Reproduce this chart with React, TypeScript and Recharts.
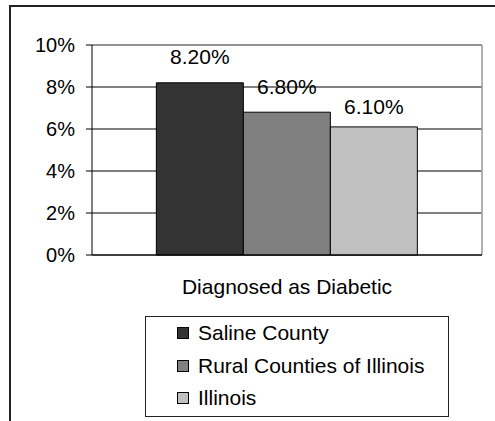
import React from "react";
import {
  BarChart,
  Bar,
  XAxis,
  YAxis,
  CartesianGrid,
  Legend,
  LabelList,
} from "recharts";

const categories = ["Diagnosed as Diabetic"];
const seriesNames = ["Saline County", "Rural Counties of Illinois", "Illinois"];
const salineCounty = [0.082];
const ruralCounties = [0.068];
const illinois = [0.061];
const yTicks = [0, 0.02, 0.04, 0.06, 0.08, 0.1];

const data = categories.map((c, i) => ({
  category: c,
  saline: salineCounty[i],
  rural: ruralCounties[i],
  illinois: illinois[i],
}));

const font = "'Liberation Sans', Arial, sans-serif";

const pct0 = (v: number) => `${Math.round(v * 100)}%`;
const pct2 = (v: number) => `${(v * 100).toFixed(2)}%`;

function LegendBox({ payload }: any) {
  const items = [...(payload || [])].sort(
    (a: any, b: any) => seriesNames.indexOf(a.value) - seriesNames.indexOf(b.value)
  );
  return (
    <div
      style={{
        boxSizing: "border-box",
        width: 304,
        height: 101,
        border: "1px solid #222",
        background: "#fff",
        paddingLeft: 31,
        fontFamily: font,
        fontSize: 21,
        color: "#000",
      }}
    >
      {items.map((p: any) => (
        <div
          key={p.value}
          style={{ height: 32.5, display: "flex", alignItems: "center" }}
        >
          <span
            style={{
              display: "inline-block",
              boxSizing: "border-box",
              width: 12,
              height: 12,
              background: p.color,
              border: "1px solid #000",
              marginRight: 9,
            }}
          />
          <span>{p.value}</span>
        </div>
      ))}
    </div>
  );
}

export default function App() {
  return (
    <div style={{ position: "absolute", left: 0, top: 0, width: 495, height: 421, background: "#fff", overflow: "hidden" }}>
      <div
        style={{
          position: "absolute",
          left: 9,
          top: 5,
          width: 520,
          height: 440,
          border: "2px solid #222",
        }}
      />
      <BarChart
        width={495}
        height={421}
        data={data}
        margin={{ top: 45, right: 13, left: 0, bottom: 136 }}
        barCategoryGap="16.5%"
        barGap={0}
        style={{ fontFamily: font, position: "absolute", left: 0, top: 0 }}
      >
        <CartesianGrid vertical={false} stroke="#000" strokeWidth={1} />
        <CartesianGrid
          stroke="#999"
          strokeWidth={1.5}
          horizontalCoordinatesGenerator={({ offset }: any) => [offset.top]}
          verticalCoordinatesGenerator={({ offset }: any) => [offset.left + offset.width]}
        />
        <XAxis
          dataKey="category"
          height={30}
          axisLine={{ stroke: "#000" }}
          tickLine={false}
          tickSize={6}
          tickMargin={18}
          tick={{ fill: "#000", fontSize: 21 }}
        />
        <YAxis
          width={92}
          domain={[0, 0.1]}
          ticks={yTicks}
          tickFormatter={pct0}
          axisLine={{ stroke: "#000" }}
          tickLine={{ stroke: "#000" }}
          tickSize={6}
          tickMargin={11}
          tick={{ fill: "#000", fontSize: 20 }}
        />
        <Legend
          layout="vertical"
          verticalAlign="middle"
          align="center"
          content={<LegendBox />}
          wrapperStyle={{ position: "absolute", left: 145, top: 316, width: 304, height: 101 }}
        />
        <Bar dataKey="saline" name={seriesNames[0]} fill="#333333" stroke="#000" strokeWidth={1} isAnimationActive={false}>
          <LabelList dataKey="saline" position="top" offset={19} formatter={pct2} fill="#000" fontSize={21} />
        </Bar>
        <Bar dataKey="rural" name={seriesNames[1]} fill="#808080" stroke="#000" strokeWidth={1} isAnimationActive={false}>
          <LabelList dataKey="rural" position="top" offset={18} formatter={pct2} fill="#000" fontSize={21} />
        </Bar>
        <Bar dataKey="illinois" name={seriesNames[2]} fill="#c0c0c0" stroke="#000" strokeWidth={1} isAnimationActive={false}>
          <LabelList dataKey="illinois" position="top" offset={13} formatter={pct2} fill="#000" fontSize={21} />
        </Bar>
      </BarChart>
    </div>
  );
}
